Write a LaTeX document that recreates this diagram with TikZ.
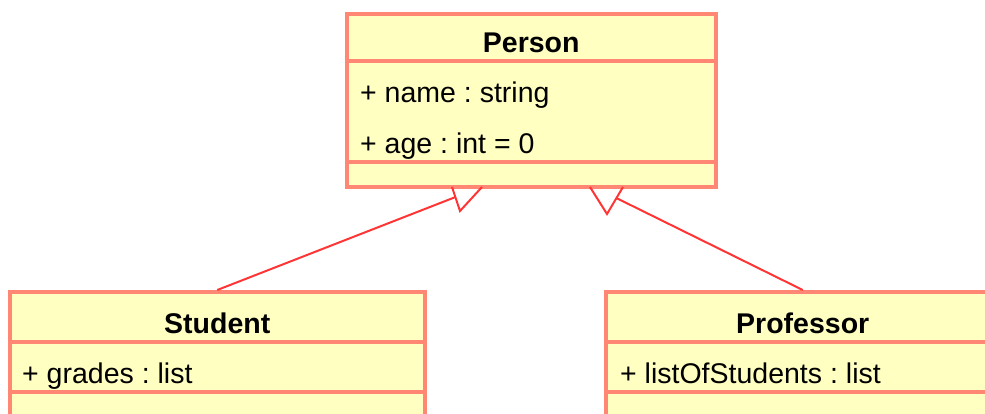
\documentclass[tikz,border=0pt]{standalone}
\usepackage{fontspec}
\setmainfont{Liberation Sans}
\frenchspacing
\usetikzlibrary{calc,positioning}
\definecolor{umlfill}{HTML}{FFFFC2}
\definecolor{umlborder}{HTML}{FF8773}
\definecolor{umlline}{HTML}{FF3535}
\tikzset{
    classbox/.style = {draw=umlborder, fill=umlfill, rectangle,
        line width=3.5pt, anchor=north west, inner sep=0pt},
    sep/.style = {draw=umlborder, line width=3.5pt},
    title/.style = {font=\fontsize{28.5}{32}\selectfont\bfseries, anchor=base, inner sep=0pt},
    attr/.style = {font=\fontsize{28.5}{32}\selectfont, anchor=base west, inner sep=0pt},
    inherit/.style = {draw=umlline, line width=2pt},
    hollow/.style = {draw=umlline, line width=2pt, line join=miter}
}

\begin{document}
\begin{tikzpicture}[x=1pt, y=-1pt]
        \fill[white] (0,0) rectangle (985,413);
        \clip (0,0) rectangle (985,413);
        \useasboundingbox (0,0) rectangle (985,413);
        % Person
        \node [classbox, minimum width=369pt, minimum height=173pt] (person) at (345,12) {};
        \draw [sep] ([yshift=-49pt]person.north west) -- ([yshift=-49pt]person.north east);
        \draw [sep] ([yshift=-150pt]person.north west) -- ([yshift=-150pt]person.north east);
        \node [title] (persontitle) at ([yshift=-40pt]person.north) {Person};
        \node [attr] (pname) at ([xshift=15pt,yshift=-90pt]person.north west) {+ name : string};
        \node [attr] (page) at ([xshift=15pt,yshift=-141pt]person.north west) {+ age : int = 0};
        % Student
        \node [classbox, minimum width=415pt, minimum height=150pt] (student) at (8,290) {};
        \draw [sep] ([yshift=-52pt]student.north west) -- ([yshift=-52pt]student.north east);
        \draw [sep] ([yshift=-102pt]student.north west) -- ([yshift=-102pt]student.north east);
        \node [title] (studenttitle) at ([yshift=-43pt]student.north) {Student};
        \node [attr] (sgrades) at ([xshift=14pt,yshift=-93pt]student.north west) {+ grades : list};
        % Professor
        \node [classbox, minimum width=394pt, minimum height=150pt] (prof) at (604,290) {};
        \draw [sep] ([yshift=-52pt]prof.north west) -- ([yshift=-52pt]prof.north east);
        \draw [sep] ([yshift=-102pt]prof.north west) -- ([yshift=-102pt]prof.north east);
        \node [title] (proftitle) at ([yshift=-43pt]prof.north) {Professor};
        \node [attr] (plist) at ([xshift=16pt,yshift=-93pt]prof.north west) {+ listOfStudents : list};
        % generalisation heads
        \coordinate (lefta) at (452,187);
        \coordinate (lefttip) at (460,211);
        \coordinate (leftb) at (482,187);
        \coordinate (righta) at (590,187);
        \coordinate (righttip) at (607,214);
        \coordinate (rightb) at (623,187);
        \draw [hollow] (lefta) -- (lefttip) -- (leftb);
        \draw [hollow] (righta) -- (righttip) -- (rightb);
        \coordinate (leftjoin) at ($(lefta)!0.42!(lefttip)$);
        \coordinate (rightjoin) at ($(rightb)!0.41!(righttip)$);
        \draw [inherit] (student.north) -- (leftjoin);
        \draw [inherit] (prof.north) -- (rightjoin);
    \end{tikzpicture}
\end{document}
